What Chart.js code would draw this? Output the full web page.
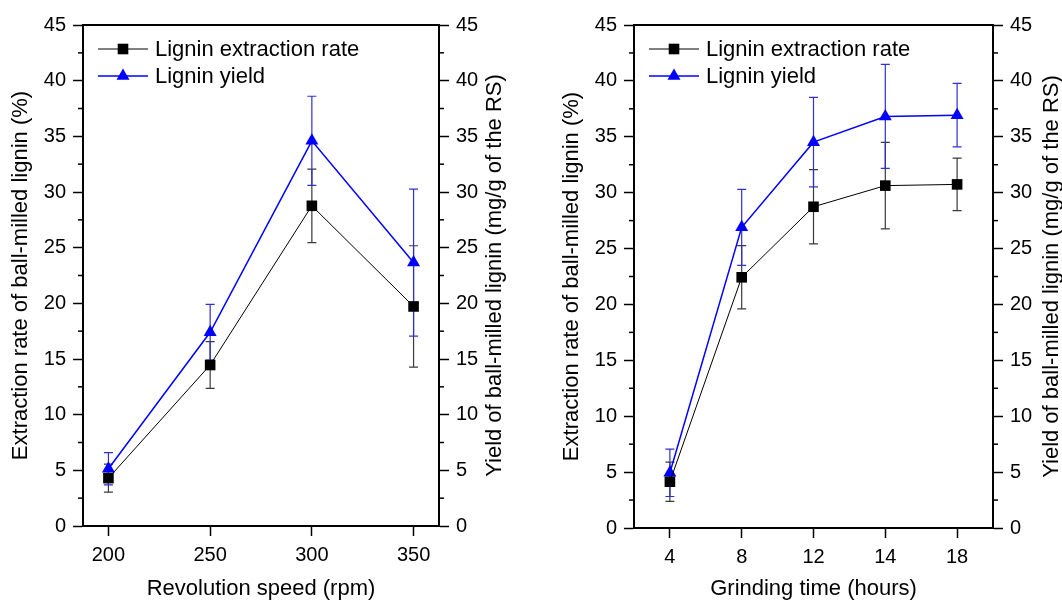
<!DOCTYPE html>
<html><head><meta charset="utf-8">
<script src="https://cdn.jsdelivr.net/npm/chart.js@4/dist/chart.umd.min.js"></script>
<style>
html,body{margin:0;padding:0;background:#fff;overflow:hidden}
#wrap{position:relative;width:1062px;height:600px;background:#fff}
canvas{position:absolute;top:0}
</style></head><body>
<div id="wrap">
<canvas id="c1" width="531" height="600" style="left:0;width:531px;height:600px"></canvas>
<canvas id="c2" width="531" height="600" style="left:531px;width:531px;height:600px"></canvas>
</div>
<script>
// ---- data ----
const speedLabels = [200, 250, 300, 350];
const speedRate = [4.3, 14.46, 28.76, 19.72];
const speedRateErr = [1.25, 2.1, 3.3, 5.45];
const speedYield = [5.14, 17.4, 34.6, 23.66];
const speedYieldErr = [1.45, 2.5, 4.0, 6.6];

const timeLabels = ['4', '8', '12', '14', '18'];
const timeRate = [4.14, 22.43, 28.74, 30.63, 30.74];
const timeRateErr = [1.76, 2.83, 3.33, 3.87, 2.35];
const timeYield = [4.94, 26.9, 34.52, 36.82, 36.93];
const timeYieldErr = [2.12, 3.4, 4.0, 4.65, 2.84];

const yTicksMax = 45;
const yStep = 5;
const legendNames = ['Lignin extraction rate', 'Lignin yield'];
const leftTitle = 'Extraction rate of ball-milled lignin (%)';
const rightTitle = 'Yield of ball-milled lignin (mg/g of the RS)';

const FONT = '"Liberation Sans", Arial, Helvetica, sans-serif';
const TICK_SIZE = 20;
const TITLE_SIZE = 22;

function valueOf(d) { return (d !== null && typeof d === 'object') ? d.y : d; }

function drawMarker(ctx, style, r, x, y) {
  if (style === 'rect') {
    const s = Math.SQRT1_2 * r;
    ctx.rect(x - s, y - s, 2 * s, 2 * s);
  } else {
    let rad = 0;
    ctx.moveTo(x + Math.sin(rad) * r, y - Math.cos(rad) * r);
    rad += 2 * Math.PI / 3;
    ctx.lineTo(x + Math.sin(rad) * r, y - Math.cos(rad) * r);
    rad += 2 * Math.PI / 3;
    ctx.lineTo(x + Math.sin(rad) * r, y - Math.cos(rad) * r);
    ctx.closePath();
  }
}

const decor = {
  id: 'decor',
  beforeDatasetsDraw(chart) {
    const ctx = chart.ctx;
    chart.data.datasets.forEach((ds, di) => {
      const meta = chart.getDatasetMeta(di);
      const ys = chart.scales[ds.yAxisID];
      ctx.save();
      ctx.strokeStyle = ds.errColor;
      ctx.lineWidth = 1.2;
      meta.data.forEach((pt, i) => {
        const v = valueOf(ds.data[i]), e = ds.errors[i];
        const x = pt.x;
        const yt = ys.getPixelForValue(v + e), yb = ys.getPixelForValue(v - e);
        ctx.beginPath();
        ctx.moveTo(x, yt); ctx.lineTo(x, yb);
        ctx.moveTo(x - 4.5, yt); ctx.lineTo(x + 4.5, yt);
        ctx.moveTo(x - 4.5, yb); ctx.lineTo(x + 4.5, yb);
        ctx.stroke();
      });
      ctx.restore();
    });
  },
  afterDraw(chart, args, opts) {
    const ctx = chart.ctx;
    const a = chart.chartArea;
    ctx.save();
    // top frame line
    ctx.strokeStyle = '#000';
    ctx.lineWidth = 2;
    ctx.beginPath();
    ctx.moveTo(a.left - 1, a.top); ctx.lineTo(a.right + 1, a.top);
    ctx.stroke();
    // minor ticks
    ctx.lineWidth = 1.5;
    ['y', 'y1'].forEach(id => {
      const s = chart.scales[id];
      const xAxis = id === 'y' ? a.left : a.right;
      const dir = id === 'y' ? -1 : 1;
      for (let v = yStep / 2; v < yTicksMax; v += yStep) {
        const py = s.getPixelForValue(v);
        ctx.beginPath();
        ctx.moveTo(xAxis, py); ctx.lineTo(xAxis + dir * 5, py);
        ctx.stroke();
      }
    });
    // right axis title (reads bottom-to-top)
    ctx.fillStyle = '#000';
    ctx.font = TITLE_SIZE + 'px ' + FONT;
    ctx.textAlign = 'center';
    ctx.textBaseline = 'middle';
    ctx.save();
    ctx.translate(a.right + opts.rightTitleOffset, (a.top + a.bottom) / 2);
    ctx.rotate(-Math.PI / 2);
    ctx.fillText(rightTitle, 0, 0);
    ctx.restore();
    // legend
    chart.data.datasets.forEach((ds, di) => {
      const y = a.top + 24 + di * 27;
      const x0 = a.left + 15;
      ctx.strokeStyle = ds.borderColor;
      ctx.lineWidth = ds.borderWidth;
      ctx.beginPath();
      ctx.moveTo(x0, y); ctx.lineTo(x0 + 50, y);
      ctx.stroke();
      ctx.fillStyle = ds.backgroundColor;
      ctx.beginPath();
      drawMarker(ctx, ds.pointStyle, ds.pointRadius, x0 + 25, y);
      ctx.fill();
      ctx.fillStyle = '#000';
      ctx.textAlign = 'left';
      ctx.textBaseline = 'middle';
      ctx.font = TITLE_SIZE + 'px ' + FONT;
      ctx.fillText(ds.label, x0 + 57, y + 1);
    });
    ctx.restore();
  }
};

function yAxis(pos, width, titlePad) {
  return {
    position: pos, min: 0, max: yTicksMax,
    ticks: {stepSize: yStep, color: '#000', font: {family: FONT, size: TICK_SIZE}, padding: 7},
    grid: {display: true, drawOnChartArea: false, drawTicks: true, tickLength: 10, tickColor: '#000', tickWidth: 1.5},
    border: {display: true, color: '#000', width: 2},
    title: {display: pos === 'left', text: leftTitle, color: '#000',
      font: {family: FONT, size: TITLE_SIZE, lineHeight: 1}, padding: {top: titlePad, bottom: 0}},
    afterFit(s) { s.width = width; }
  };
}

function datasets(rate, rateErr, yld, yldErr) {
  return [
    {label: legendNames[0], data: rate, errors: rateErr, yAxisID: 'y',
      borderColor: '#000000', backgroundColor: '#000000', borderWidth: 1,
      pointStyle: 'rect', pointRadius: 7.5, pointBorderWidth: 0, pointBackgroundColor: '#000000',
      errColor: '#3a3a3a', tension: 0, clip: false},
    {label: legendNames[1], data: yld, errors: yldErr, yAxisID: 'y1',
      borderColor: '#0000ff', backgroundColor: '#0000ff', borderWidth: 1.5,
      pointStyle: 'triangle', pointRadius: 7.5, pointBorderWidth: 0, pointBackgroundColor: '#0000ff',
      errColor: '#3030d0', tension: 0, clip: false}
  ];
}

const common = {
  responsive: false, animation: false,
  plugins: {legend: {display: false}, tooltip: {enabled: false}},
  layout: {padding: {top: 25, right: 0, bottom: 0, left: 0}}
};

function xCommon(title, height) {
  return {
    ticks: {color: '#000', font: {family: FONT, size: TICK_SIZE}, padding: 7},
    grid: {display: true, offset: false, drawOnChartArea: false, drawTicks: true, tickLength: 10, tickColor: '#000', tickWidth: 1.5},
    border: {display: true, color: '#000', width: 2},
    title: {display: true, text: title, color: '#000',
      font: {family: FONT, size: TITLE_SIZE, lineHeight: 1}, padding: {top: 0, bottom: 0}},
    afterFit(s) { s.height = height; }
  };
}

new Chart(document.getElementById('c1'), {
  type: 'line',
  data: {datasets: datasets(speedRate, speedRateErr, speedYield, speedYieldErr)
    .map(d => ({...d, data: d.data.map((v, i) => ({x: speedLabels[i], y: v}))}))},
  options: {
    ...common,
    plugins: {...common.plugins, decor: {rightTitleOffset: 56}},
    scales: {
      x: {
        ...xCommon('Revolution speed (rpm)', 74),
        type: 'linear', min: 187.5, max: 362.5,
        afterBuildTicks(s) { s.ticks = speedLabels.map(v => ({value: v})); }
      },
      y: yAxis('left', 83, 10),
      y1: yAxis('right', 92, 0)
    }
  },
  plugins: [decor]
});

new Chart(document.getElementById('c2'), {
  type: 'line',
  data: {labels: timeLabels, datasets: datasets(timeRate, timeRateErr, timeYield, timeYieldErr)},
  options: {
    ...common,
    plugins: {...common.plugins, decor: {rightTitleOffset: 59}},
    scales: {
      x: {...xCommon('Grinding time (hours)', 72), type: 'category', offset: true},
      y: yAxis('left', 103, 30),
      y1: yAxis('right', 69, 0)
    }
  },
  plugins: [decor]
});
</script>
</body></html>
